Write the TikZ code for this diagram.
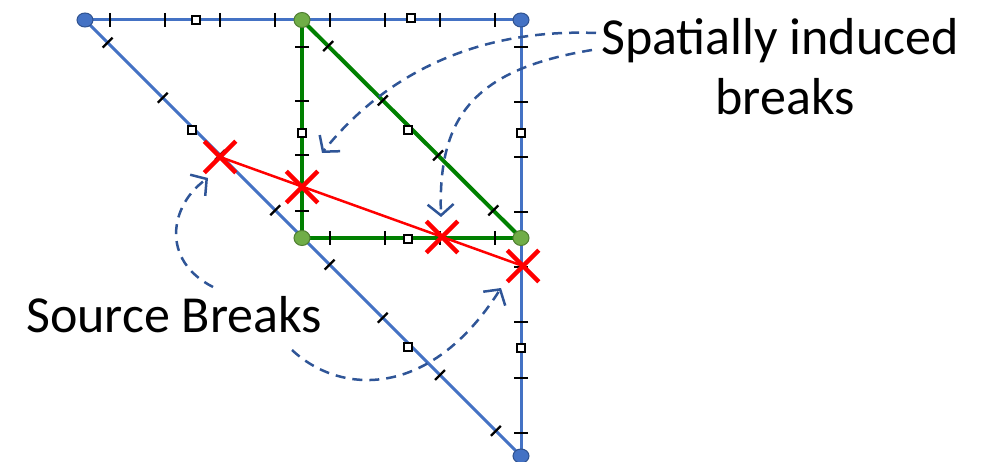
\documentclass[tikz,border=0pt]{standalone}
\usepackage{fontspec}
\setmainfont{Carlito}
\usetikzlibrary{arrows.meta,decorations.markings,shapes.misc,shapes.geometric}
\definecolor{nblue}{HTML}{4472C4}
\definecolor{nbluedark}{HTML}{2F528F}
\definecolor{ngreen}{HTML}{70AD47}
\definecolor{ngreendark}{HTML}{507E32}
\definecolor{lgreen}{HTML}{008000}
\definecolor{arrblue}{HTML}{2F5597}
\begin{document}
\begin{tikzpicture}[x=1pt,y=-1pt,
  blueline/.style={draw=nblue,line width=3pt},
  greenline/.style={draw=lgreen,line width=4pt},
  redline/.style={draw=red,line width=2.5pt},
  tickl/.style={draw=black,line width=2.3pt},
  tickat/.style={postaction={decorate,decoration={markings,
      mark=at position #1pt with {\draw[tickl] (0,-7) -- (0,7);}}}},
  sq/.style={draw=black,line width=2pt,fill=white},
  bnode/.style={ellipse,draw=nbluedark,fill=nblue,line width=1pt,minimum width=16pt,minimum height=14pt,inner sep=0pt},
  gnode/.style={ellipse,draw=ngreendark,fill=ngreen,line width=1pt,minimum width=16pt,minimum height=15pt,inner sep=0pt},
  brk/.style={cross out,draw=red,line width=4.5pt,minimum size=27pt,inner sep=0pt},
  darr/.style={draw=arrblue,line width=2.5pt,dash pattern=on 10pt off 7pt,
      -{Straight Barb[length=11pt,width=26pt,line width=2.5pt]}},
  lbl/.style={inner sep=0pt,font=\fontsize{52}{60}\selectfont}
]
\useasboundingbox (0,0) rectangle (995,462);
% coordinates
\coordinate (A) at (85,20);
\coordinate (B) at (302,20);
\coordinate (C) at (521,20);
\coordinate (D) at (521,456);
\coordinate (E) at (302,238);
\coordinate (F) at (521,238);
\coordinate (X1) at (220,157);
\coordinate (X2) at (302,187);
\coordinate (X3) at (442,237);
\coordinate (X4) at (523,266);
% blue lines
\draw[blueline,tickat/.list={25,80,135,190,245,300,355,410}] (A) -- (C);
\draw[blueline,tickat/.list={27,82,137,192,247,302,358,413}] (C) -- (D);
\draw[blueline,tickat/.list={32,110,191,269,346,421,502,581}] (A) -- (D);
% green lines
\draw[greenline,tickat/.list={27,81,135,191}] (B) -- (E);
\draw[greenline,tickat/.list={28,83,138,193}] (E) -- (F);
\draw[greenline,tickat/.list={37,114,192,270}] (B) -- (F);
% squares
\foreach \p in {(196,20),(411,18),(302,133),(521,133),(521,348),(408,239),(192,130),(408,347),(408,130)}
  \draw[sq] \p ++(-4,-4) rectangle ++(8,8);
% red line
\draw[redline] (X1) -- (X4);
% nodes
\node[bnode] (nA) at (A) {};
\node[bnode] (nC) at (C) {};
\node[bnode] (nD) at (D) {};
\node[gnode] (nB) at (B) {};
\node[gnode] (nE) at (E) {};
\node[gnode] (nF) at (F) {};
\node[brk] (b1) at (X1) {};
\node[brk] (b2) at (X2) {};
\node[brk] (b3) at (X3) {};
\node[brk] (b4) at (X4) {};
% labels
\node[lbl,anchor=base west] (src) at (26,332) {Source Breaks};
\node[lbl,anchor=base] (sp1) at (780,55) {Spatially induced};
\node[lbl,anchor=base] (sp2) at (785,115) {breaks};
% arrow endpoints
\coordinate (s1) at (596,33);
\coordinate (s2) at (592,50);
\coordinate (t1) at (322,153);
\coordinate (t2) at (441,217);
\coordinate (u1) at (213,287);
\coordinate (u2) at (292,350);
\coordinate (v1) at (208,178);
\coordinate (v2) at (501,288);
\draw[darr] (s1) .. controls (470,28) and (380,80) .. (t1);
\draw[darr] (s2) .. controls (470,70) and (438,120) .. (t2);
\draw[darr] (u1) .. controls (160,260) and (170,205) .. (v1);
\draw[darr] (u2) .. controls (340,395) and (430,400) .. (v2);
\end{tikzpicture}
\end{document}
